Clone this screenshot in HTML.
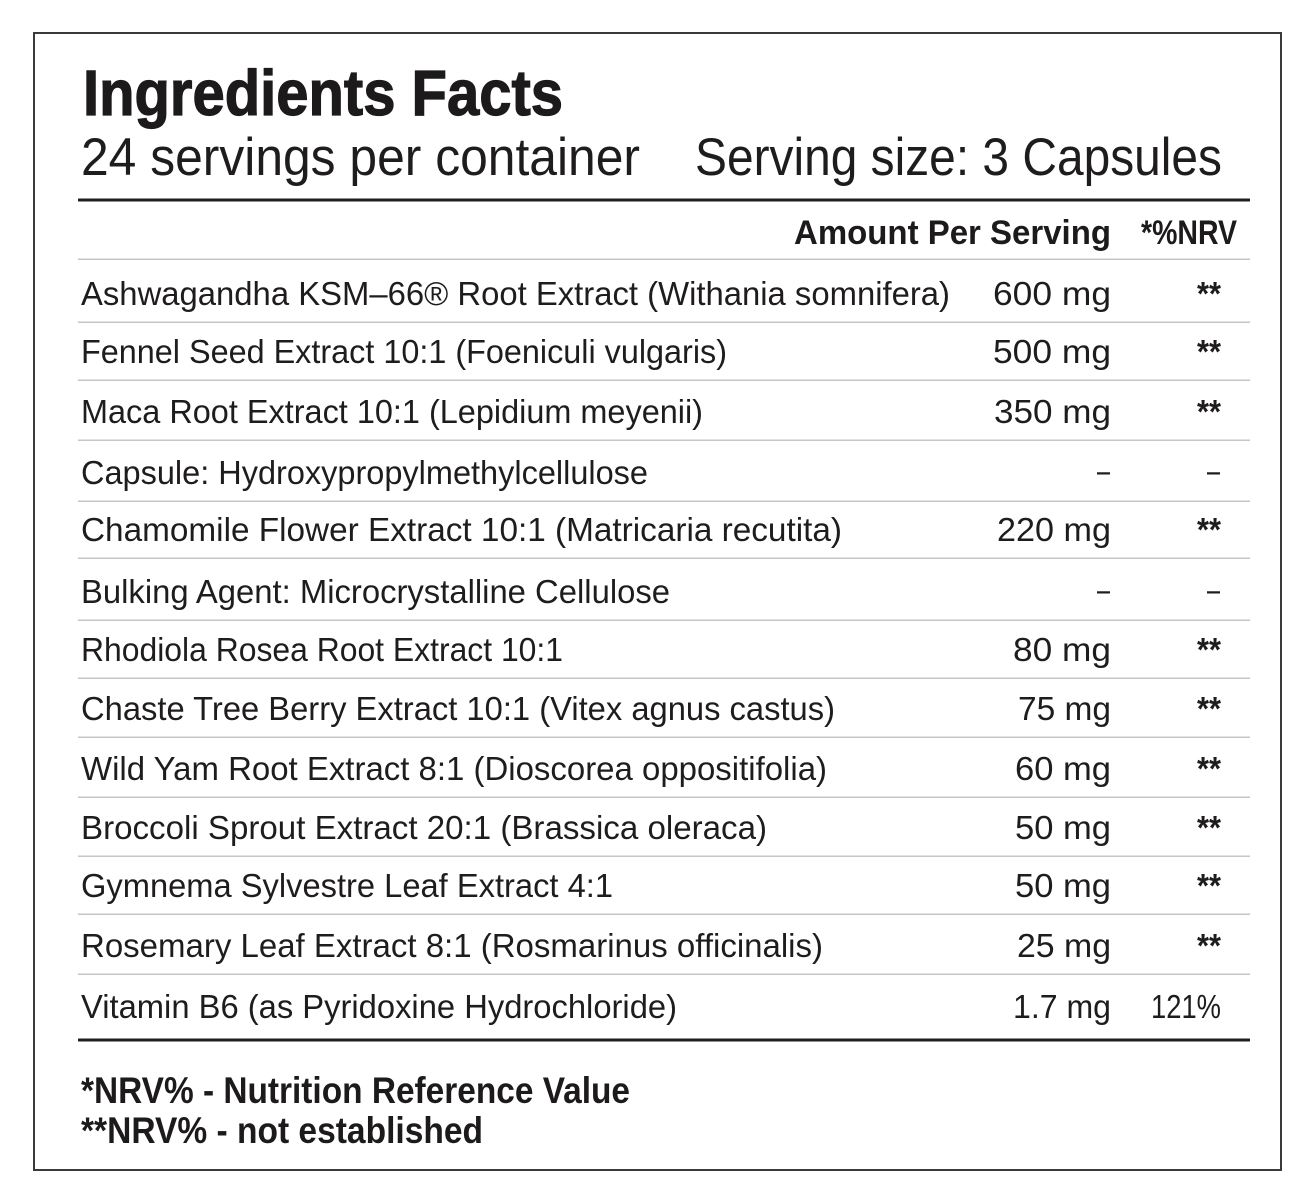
<!DOCTYPE html>
<html>
<head>
<meta charset="utf-8">
<style>
  html, body { margin:0; padding:0; background:#ffffff; }
  body { width:1312px; height:1204px; overflow:hidden; }
  svg { display:block; }
  .r { font-family:"Liberation Sans Narrow","Liberation Sans",sans-serif; font-size:33px; fill:#1f1c1d; }
  .b { font-family:"Liberation Sans Narrow","Liberation Sans",sans-serif; font-weight:bold; fill:#1d1a1b; }
  .ast { font-family:"Liberation Sans Narrow","Liberation Sans",sans-serif; font-size:33px; font-weight:bold; fill:#1f1c1d; }
</style>
</head>
<body>
<svg width="1312" height="1204" viewBox="0 0 1312 1204" xmlns="http://www.w3.org/2000/svg">
  <rect x="0" y="0" width="1312" height="1204" fill="#ffffff"/>
  <!-- outer border -->
  <rect x="34" y="33" width="1247" height="1137" fill="none" stroke="#3a3a3a" stroke-width="2"/>

  <!-- title -->
  <text class="b" x="83" y="115" font-size="64" stroke="#1d1a1b" stroke-width="1.2" textLength="480" lengthAdjust="spacingAndGlyphs">Ingredients Facts</text>
  <text class="r" x="81" y="175" style="font-size:53px" textLength="559" lengthAdjust="spacingAndGlyphs">24 servings per container</text>
  <text class="r" x="695" y="175" style="font-size:53px" textLength="527" lengthAdjust="spacingAndGlyphs">Serving size: 3 Capsules</text>

  <!-- thick line -->
  <rect x="78" y="198.5" width="1172" height="3" fill="#231f20"/>

  <!-- header -->
  <text class="b" x="794" y="244" font-size="34" textLength="317" lengthAdjust="spacingAndGlyphs">Amount Per Serving</text>
  <text class="b" x="1141" y="244" font-size="34" textLength="96" lengthAdjust="spacingAndGlyphs">*%NRV</text>

  <!-- thin separators -->
  <g fill="#c6c6c6">
    <rect x="78" y="258.5" width="1172" height="1.5"/>
    <rect x="78" y="321.5" width="1172" height="1.5"/>
    <rect x="78" y="379.5" width="1172" height="1.5"/>
    <rect x="78" y="439.5" width="1172" height="1.5"/>
    <rect x="78" y="500.5" width="1172" height="1.5"/>
    <rect x="78" y="557.5" width="1172" height="1.5"/>
    <rect x="78" y="619.5" width="1172" height="1.5"/>
    <rect x="78" y="677.5" width="1172" height="1.5"/>
    <rect x="78" y="736.5" width="1172" height="1.5"/>
    <rect x="78" y="796.5" width="1172" height="1.5"/>
    <rect x="78" y="855.5" width="1172" height="1.5"/>
    <rect x="78" y="913.5" width="1172" height="1.5"/>
    <rect x="78" y="973.5" width="1172" height="1.5"/>
  </g>

  <!-- rows: names -->
  <text class="r" x="81" y="305" textLength="869" lengthAdjust="spacingAndGlyphs">Ashwagandha KSM–66® Root Extract (Withania somnifera)</text>
  <text class="r" x="81" y="363" textLength="646" lengthAdjust="spacingAndGlyphs">Fennel Seed Extract 10:1 (Foeniculi vulgaris)</text>
  <text class="r" x="81" y="423" textLength="622" lengthAdjust="spacingAndGlyphs">Maca Root Extract 10:1 (Lepidium meyenii)</text>
  <text class="r" x="81" y="484" textLength="567" lengthAdjust="spacingAndGlyphs">Capsule: Hydroxypropylmethylcellulose</text>
  <text class="r" x="81" y="541" textLength="761" lengthAdjust="spacingAndGlyphs">Chamomile Flower Extract 10:1 (Matricaria recutita)</text>
  <text class="r" x="81" y="603" textLength="589" lengthAdjust="spacingAndGlyphs">Bulking Agent: Microcrystalline Cellulose</text>
  <text class="r" x="81" y="661" textLength="482" lengthAdjust="spacingAndGlyphs">Rhodiola Rosea Root Extract 10:1</text>
  <text class="r" x="81" y="720" textLength="754" lengthAdjust="spacingAndGlyphs">Chaste Tree Berry Extract 10:1 (Vitex agnus castus)</text>
  <text class="r" x="81" y="780" textLength="746" lengthAdjust="spacingAndGlyphs">Wild Yam Root Extract 8:1 (Dioscorea oppositifolia)</text>
  <text class="r" x="81" y="839" textLength="686" lengthAdjust="spacingAndGlyphs">Broccoli Sprout Extract 20:1 (Brassica oleraca)</text>
  <text class="r" x="81" y="897" textLength="532" lengthAdjust="spacingAndGlyphs">Gymnema Sylvestre Leaf Extract 4:1</text>
  <text class="r" x="81" y="957" textLength="742" lengthAdjust="spacingAndGlyphs">Rosemary Leaf Extract 8:1 (Rosmarinus officinalis)</text>
  <text class="r" x="81" y="1018" textLength="596" lengthAdjust="spacingAndGlyphs">Vitamin B6 (as Pyridoxine Hydrochloride)</text>

  <!-- amounts -->
  <g text-anchor="end">
    <text class="r" x="1111" y="305" textLength="118" lengthAdjust="spacingAndGlyphs">600 mg</text>
    <text class="r" x="1111" y="363" textLength="118" lengthAdjust="spacingAndGlyphs">500 mg</text>
    <text class="r" x="1111" y="423" textLength="117" lengthAdjust="spacingAndGlyphs">350 mg</text>
    <text class="r" x="1110" y="482" textLength="13" lengthAdjust="spacingAndGlyphs">–</text>
    <text class="r" x="1111" y="541" textLength="114" lengthAdjust="spacingAndGlyphs">220 mg</text>
    <text class="r" x="1110" y="601" textLength="13" lengthAdjust="spacingAndGlyphs">–</text>
    <text class="r" x="1111" y="661" textLength="98" lengthAdjust="spacingAndGlyphs">80 mg</text>
    <text class="r" x="1111" y="720" textLength="93" lengthAdjust="spacingAndGlyphs">75 mg</text>
    <text class="r" x="1111" y="780" textLength="96" lengthAdjust="spacingAndGlyphs">60 mg</text>
    <text class="r" x="1111" y="839" textLength="96" lengthAdjust="spacingAndGlyphs">50 mg</text>
    <text class="r" x="1111" y="897" textLength="96" lengthAdjust="spacingAndGlyphs">50 mg</text>
    <text class="r" x="1111" y="957" textLength="94" lengthAdjust="spacingAndGlyphs">25 mg</text>
    <text class="r" x="1111" y="1018" textLength="98" lengthAdjust="spacingAndGlyphs">1.7 mg</text>
  </g>

  <!-- NRV -->
  <g text-anchor="end">
    <text class="ast" x="1221" y="305" textLength="24" lengthAdjust="spacingAndGlyphs">**</text>
    <text class="ast" x="1221" y="363" textLength="24" lengthAdjust="spacingAndGlyphs">**</text>
    <text class="ast" x="1221" y="423" textLength="24" lengthAdjust="spacingAndGlyphs">**</text>
    <text class="r" x="1220" y="482" textLength="13" lengthAdjust="spacingAndGlyphs">–</text>
    <text class="ast" x="1221" y="541" textLength="24" lengthAdjust="spacingAndGlyphs">**</text>
    <text class="r" x="1220" y="601" textLength="13" lengthAdjust="spacingAndGlyphs">–</text>
    <text class="ast" x="1221" y="661" textLength="24" lengthAdjust="spacingAndGlyphs">**</text>
    <text class="ast" x="1221" y="720" textLength="24" lengthAdjust="spacingAndGlyphs">**</text>
    <text class="ast" x="1221" y="780" textLength="24" lengthAdjust="spacingAndGlyphs">**</text>
    <text class="ast" x="1221" y="839" textLength="24" lengthAdjust="spacingAndGlyphs">**</text>
    <text class="ast" x="1221" y="897" textLength="24" lengthAdjust="spacingAndGlyphs">**</text>
    <text class="ast" x="1221" y="957" textLength="24" lengthAdjust="spacingAndGlyphs">**</text>
    <text class="r" x="1221" y="1018" textLength="70" lengthAdjust="spacingAndGlyphs">121%</text>
  </g>

  <!-- bottom thick line -->
  <rect x="78" y="1038.5" width="1172" height="3" fill="#231f20"/>

  <!-- footer -->
  <text class="b" x="81" y="1103" font-size="37" textLength="549" lengthAdjust="spacingAndGlyphs">*NRV% - Nutrition Reference Value</text>
  <text class="b" x="81" y="1143" font-size="37" textLength="402" lengthAdjust="spacingAndGlyphs">**NRV% - not established</text>
</svg>
</body>
</html>
